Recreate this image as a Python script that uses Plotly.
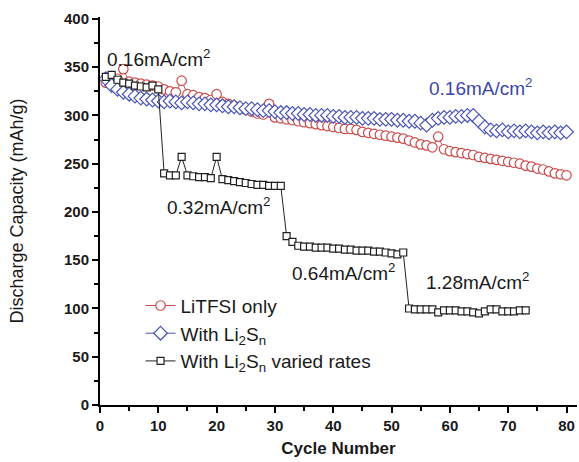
import plotly.graph_objects as go

# Cycle index shared by the two constant-rate cells
cycles = list(range(1, 81))

# Discharge capacity (mAh/g), electrolyte with LiTFSI only, 0.16 mA/cm2
litfsi_only = [334, 337, 338, 348, 335, 334, 333, 332, 331, 330,
               327, 325, 324, 336, 322, 321, 319, 318, 316, 322,
               314, 312, 310, 308, 306, 304, 302, 301, 312, 298,
               297, 296, 295, 294, 293, 292, 291, 290, 289, 288,
               287, 286, 286, 285, 283, 282, 281, 280, 279, 278,
               277, 276, 274, 272, 270, 269, 267, 278, 265, 263,
               262, 261, 260, 259, 257, 256, 255, 254, 253, 252,
               251, 250, 248, 247, 245, 244, 242, 240, 239, 238]

# Discharge capacity (mAh/g), electrolyte with Li2Sn, 0.16 mA/cm2
with_li2sn = [338, 331, 327, 324, 322, 320, 318, 317, 316, 315,
              314, 315, 314, 313, 314, 313, 312, 312, 311, 311,
              310, 309, 309, 308, 307, 307, 306, 305, 305, 304,
              303, 303, 302, 302, 301, 301, 300, 300, 300, 299,
              299, 298, 298, 298, 297, 297, 297, 296, 296, 296,
              295, 295, 294, 294, 292, 290, 295, 297, 298, 298,
              299, 299, 300, 300, 294, 288, 285, 284, 285, 283,
              284, 283, 284, 283, 282, 283, 282, 283, 282, 283]

# Cell with Li2Sn cycled at stepped current densities
rate_cycles = list(range(1, 74))
with_li2sn_rates = [340, 342, 337, 334, 333, 331, 330, 329, 331, 327,
                    240, 238, 238, 257, 238, 237, 236, 236, 235, 257,
                    234, 233, 232, 231, 230, 229, 228, 228, 227, 227,
                    227, 175, 169, 165, 164, 164, 163, 163, 163, 162,
                    162, 161, 161, 160, 160, 160, 159, 159, 158, 157,
                    156, 158, 100, 99, 99, 99, 99, 96, 98, 98,
                    98, 97, 97, 96, 95, 97, 99, 99, 97, 97,
                    97, 98, 98]

# Tick positions
x_ticks = list(range(0, 81, 10))
y_ticks = list(range(0, 401, 50))

# Current-density labels: (text, x, y, colour)
rate_labels = [
    ("0.16mA/cm<sup>2</sup>", 0.8, 360, "#1a1a1a"),
    ("0.16mA/cm<sup>2</sup>", 56.0, 329, "#3c46aa"),
    ("0.32mA/cm<sup>2</sup>", 11.2, 206, "#1a1a1a"),
    ("0.64mA/cm<sup>2</sup>", 32.5, 138, "#1a1a1a"),
    ("1.28mA/cm<sup>2</sup>", 55.6, 128, "#1a1a1a"),
]

RED = "#cc4a4a"
BLUE = "#4a55b8"
BLACK = "#222222"
FONT = "Arial, 'Liberation Sans', sans-serif"

fig = go.Figure()

fig.add_trace(go.Scatter(
    x=cycles, y=litfsi_only, mode="lines+markers", name="LiTFSI only",
    line=dict(color=RED, width=1),
    marker=dict(symbol="circle", size=9.5, color="white",
                line=dict(color=RED, width=1.2)),
))
fig.add_trace(go.Scatter(
    x=cycles, y=with_li2sn, mode="lines+markers",
    name="With Li<sub>2</sub>S<sub>n</sub>",
    line=dict(color=BLUE, width=1),
    marker=dict(symbol="diamond", size=10.5, color="white",
                line=dict(color=BLUE, width=1.2)),
))
fig.add_trace(go.Scatter(
    x=rate_cycles, y=with_li2sn_rates, mode="lines+markers",
    name="With Li<sub>2</sub>S<sub>n</sub> varied rates",
    line=dict(color=BLACK, width=1),
    marker=dict(symbol="square", size=7, color="white",
                line=dict(color=BLACK, width=1.2)),
))

for text, x, y, color in rate_labels:
    fig.add_annotation(x=x, y=y, xref="x", yref="y", text=text,
                       showarrow=False, xanchor="left", yanchor="middle",
                       font=dict(family=FONT, size=19, color=color))

axis_common = dict(
    showline=True, linecolor="black", linewidth=2, mirror=False,
    ticks="outside", ticklen=6, tickwidth=2, tickcolor="black",
    showgrid=False, zeroline=False,
    tickfont=dict(family=FONT, size=15, color="#1a1a1a"),
    minor=dict(ticks="outside", ticklen=4, tickwidth=1.5, tickcolor="black"),
)

fig.update_xaxes(range=[0, 81.8], tickvals=x_ticks,
                 ticktext=[f"<b>{v}</b>" for v in x_ticks],
                 minor_dtick=5,
                 title=dict(text="<b>Cycle Number</b>", standoff=9,
                            font=dict(family=FONT, size=17, color="#1a1a1a")),
                 **axis_common)
fig.update_yaxes(range=[0, 402], tickvals=y_ticks,
                 ticktext=[f"<b>{v}</b>" for v in y_ticks],
                 minor_dtick=25,
                 title=dict(text="Discharge Capacity (mAh/g)", standoff=36,
                            font=dict(family=FONT, size=18, color="#1a1a1a")),
                 **axis_common)

fig.update_layout(
    width=579, height=462,
    margin=dict(l=100, r=2, t=17, b=57, autoexpand=False),
    plot_bgcolor="white", paper_bgcolor="white",
    font=dict(family=FONT, color="#1a1a1a"),
    legend=dict(x=0.085, y=0.305, xanchor="left", yanchor="top",
                bgcolor="rgba(0,0,0,0)", borderwidth=0,
                font=dict(family=FONT, size=19, color="#1a1a1a"),
                tracegroupgap=0),
)

fig.write_html("out.html")
